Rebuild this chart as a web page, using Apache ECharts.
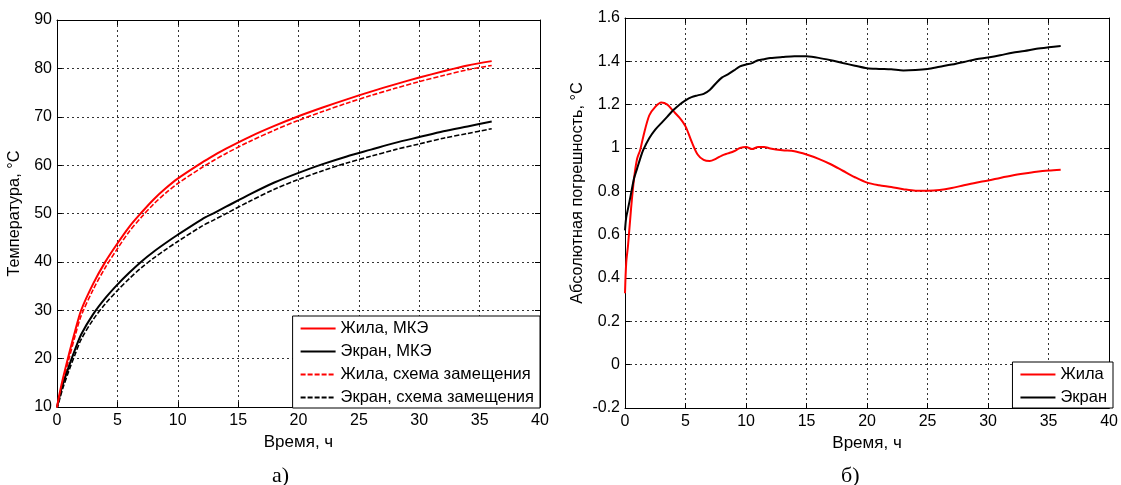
<!DOCTYPE html>
<html>
<head>
<meta charset="utf-8">
<script src="https://cdn.jsdelivr.net/npm/echarts@6/dist/echarts.min.js"></script>
<style>
  html, body { margin: 0; padding: 0; background: #fff; }
  #chart { width: 1121px; height: 485px; }
</style>
</head>
<body>
<div id="chart"></div>
<script>
// Heating curves, h
const timeTemp = [0, 0.25, 0.5, 1, 1.5, 2, 3, 4, 5, 6, 7, 8, 9, 10, 12, 13, 14, 16, 18, 20, 22, 24, 26, 28, 30, 32, 34, 36];
const coreFem = [10, 13.2, 16, 21, 25.7, 30, 35.5, 40, 43.8, 47.3, 50.2, 52.9, 55.2, 57.2, 60.5, 62, 63.4, 65.9, 68.1, 70.1, 71.9, 73.6, 75.2, 76.7, 78.1, 79.4, 80.6, 81.5];
const screenFem = [10, 12.6, 14.8, 18.5, 21.9, 25, 29.2, 32.5, 35.3, 37.8, 40.1, 42.1, 43.9, 45.6, 48.8, 50.1, 51.4, 54, 56.4, 58.4, 60.2, 61.8, 63.2, 64.6, 65.8, 67, 68, 69];
const coreCircuit = [9.8, 12.65, 15.28, 20.05, 24.71, 28.85, 34.29, 38.83, 42.7, 46.33, 49.26, 51.93, 54.22, 56.2, 59.5, 61.01, 62.42, 64.95, 67.21, 69.26, 71.08, 72.8, 74.39, 75.87, 77.25, 78.53, 79.71, 80.6];
const screenCircuit = [9.5, 11.88, 14.01, 17.6, 20.91, 23.96, 28.09, 31.33, 34.08, 36.56, 38.83, 40.78, 42.54, 44.22, 47.39, 48.68, 49.98, 52.58, 55.01, 57.03, 58.84, 60.44, 61.83, 63.2, 64.38, 65.56, 66.54, 67.53];

// Absolute error between FEM and equivalent circuit, °C
const timeErr = [0, 0.1, 0.25, 0.5, 0.75, 1, 1.25, 1.5, 2, 2.5, 3, 3.5, 4, 4.5, 5, 5.5, 6, 6.5, 7, 7.5, 8, 8.5, 9, 9.5, 10, 10.5, 11, 11.5, 12, 13, 14, 15, 16, 17, 18, 19, 20, 21, 22, 23, 24, 25, 26, 27, 28, 29, 30, 31, 32, 33, 34, 35, 36];
const errCore = [0.33, 0.47, 0.55, 0.72, 0.86, 0.95, 0.99, 1.05, 1.15, 1.19, 1.21, 1.2, 1.17, 1.14, 1.1, 1.03, 0.97, 0.945, 0.94, 0.95, 0.965, 0.975, 0.985, 1.0, 1.005, 0.995, 1.005, 1.005, 0.998, 0.99, 0.985, 0.97, 0.95, 0.925, 0.895, 0.865, 0.84, 0.828, 0.82, 0.81, 0.803, 0.803, 0.806, 0.815, 0.828, 0.84, 0.85, 0.862, 0.873, 0.882, 0.89, 0.896, 0.9];
const errScreen = [0.62, 0.68, 0.72, 0.79, 0.86, 0.905, 0.95, 0.99, 1.045, 1.085, 1.115, 1.145, 1.175, 1.2, 1.22, 1.235, 1.243, 1.25, 1.268, 1.298, 1.325, 1.34, 1.358, 1.377, 1.385, 1.392, 1.405, 1.41, 1.415, 1.42, 1.424, 1.423, 1.416, 1.405, 1.392, 1.38, 1.368, 1.365, 1.363, 1.358, 1.36, 1.365, 1.375, 1.385, 1.397, 1.41, 1.418, 1.428, 1.44, 1.448, 1.458, 1.465, 1.471];

const xTicks = { min: 0, max: 40, interval: 5 };
const tempTicks = { min: 10, max: 90, interval: 10 };
const errTicks = { min: -0.2, max: 1.6, interval: 0.2 };

const FONT = '"Liberation Sans", Arial, sans-serif';
const pairs = (xs, ys) => xs.map((x, i) => [x, ys[i]]);

const gridLine = { show: true, lineStyle: { color: '#333', width: 1, type: [2, 3] } };
const labelStyle = { color: '#000', fontSize: 16, fontFamily: FONT };
const nameStyle = { color: '#000', fontSize: 17, fontFamily: FONT };

function mainX(gridIndex) {
  return {
    type: 'value', gridIndex, ...xTicks,
    name: 'Время, ч', nameLocation: 'middle', nameGap: 26, nameTextStyle: nameStyle,
    axisLine: { show: true, onZero: false, lineStyle: { color: '#000', width: 1 } },
    axisTick: { show: true, inside: true, length: 5, lineStyle: { color: '#000' } },
    axisLabel: { ...labelStyle, margin: 6 },
    splitLine: gridLine
  };
}
function mirrorX(gridIndex) {
  return {
    type: 'value', gridIndex, position: 'top', ...xTicks,
    axisLine: { show: true, onZero: false, lineStyle: { color: '#000', width: 1 } },
    axisTick: { show: true, inside: true, length: 5, lineStyle: { color: '#000' } },
    axisLabel: { show: false }, splitLine: { show: false }
  };
}
function mainY(gridIndex, ticks, name, gap, shift) {
  return {
    type: 'value', gridIndex, ...ticks,
    name, nameLocation: 'middle', nameGap: gap,
    nameTextStyle: { ...nameStyle, fontSize: 16.3, padding: [0, 0, 0, shift] },
    axisLine: { show: true, onZero: false, lineStyle: { color: '#000', width: 1 } },
    axisTick: { show: true, inside: true, length: 5, lineStyle: { color: '#000' } },
    axisLabel: { ...labelStyle, margin: 5 },
    splitLine: gridLine
  };
}
function mirrorY(gridIndex, ticks) {
  return {
    type: 'value', gridIndex, position: 'right', ...ticks,
    axisLine: { show: true, onZero: false, lineStyle: { color: '#000', width: 1 } },
    axisTick: { show: true, inside: true, length: 5, lineStyle: { color: '#000' } },
    axisLabel: { show: false }, splitLine: { show: false }
  };
}
function line(name, xi, yi, data, color, dashed) {
  return {
    name, type: 'line', xAxisIndex: xi, yAxisIndex: yi, data,
    symbol: 'none', smooth: 0.3, animation: false,
    lineStyle: { color, width: dashed ? 1.6 : 2, type: dashed ? [5, 2] : 'solid' },
    itemStyle: { color }
  };
}
const legendBase = {
  orient: 'vertical', backgroundColor: '#fff', borderColor: '#000', borderWidth: 1,
  borderRadius: 0, itemWidth: 35, itemHeight: 14, itemGap: 6, padding: [4, 6, 2, 7],
  itemStyle: { opacity: 0, borderWidth: 0 },
  textStyle: { color: '#000', fontSize: 16.5, fontFamily: FONT }, selectedMode: false
};

const chart = echarts.init(document.getElementById('chart'), null, { renderer: 'canvas' });
chart.setOption({
  animation: false,
  backgroundColor: '#fff',
  grid: [
    { left: 57, right: 581, top: 20, bottom: 78 },
    { left: 625, right: 8, top: 18, bottom: 77 }
  ],
  xAxis: [mainX(0), mirrorX(0), mainX(1), mirrorX(1)],
  yAxis: [
    mainY(0, tempTicks, 'Температура, °C', 34, 0),
    mirrorY(0, tempTicks),
    mainY(1, errTicks, 'Абсолютная погрешность, °C', 39, 40),
    mirrorY(1, errTicks)
  ],
  legend: [
    { ...legendBase, right: 581, bottom: 77,
      data: ['Жила, МКЭ', 'Экран, МКЭ', 'Жила, схема замещения', 'Экран, схема замещения'] },
    { ...legendBase, right: 8, bottom: 77, data: ['Жила', 'Экран'] }
  ],
  series: [
    line('Экран, схема замещения', 0, 0, pairs(timeTemp, screenCircuit), '#000', true),
    line('Жила, схема замещения', 0, 0, pairs(timeTemp, coreCircuit), '#ff0000', true),
    line('Экран, МКЭ', 0, 0, pairs(timeTemp, screenFem), '#000', false),
    line('Жила, МКЭ', 0, 0, pairs(timeTemp, coreFem), '#ff0000', false),
    line('Жила', 2, 2, pairs(timeErr, errCore), '#ff0000', false),
    line('Экран', 2, 2, pairs(timeErr, errScreen), '#000', false)
  ],
  graphic: [
    { type: 'text', left: 272, top: 465, style: { text: 'а)', font: '22px "Liberation Serif", "Times New Roman", serif', fill: '#000' } },
    { type: 'text', left: 841, top: 465, style: { text: 'б)', font: '22px "Liberation Serif", "Times New Roman", serif', fill: '#000' } }
  ]
});
</script>
</body>
</html>
